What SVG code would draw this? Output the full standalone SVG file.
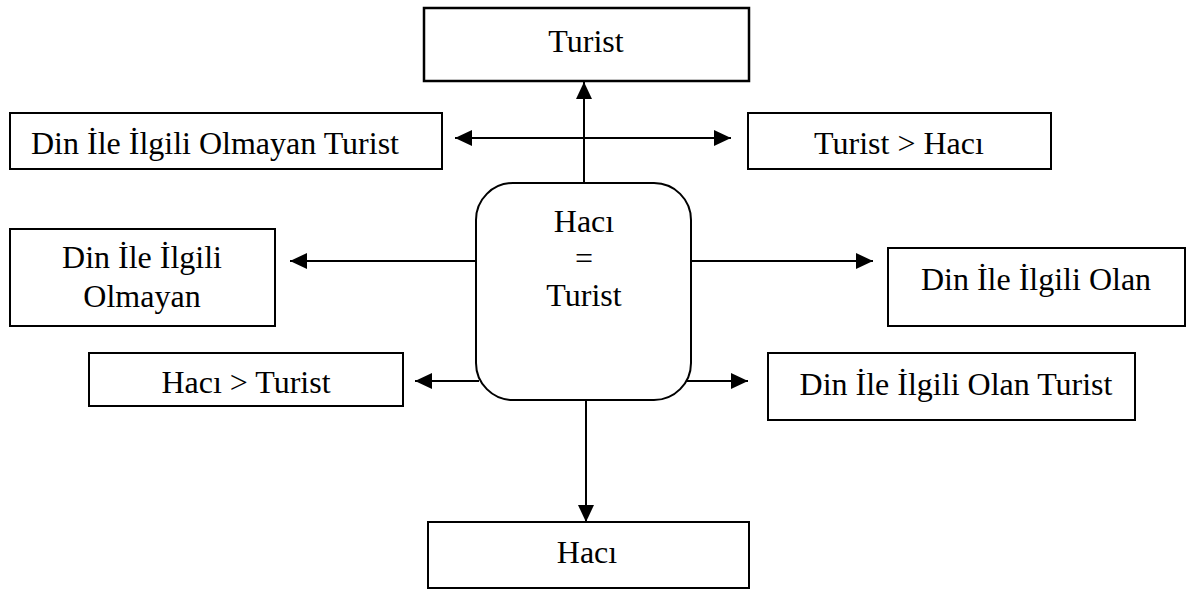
<svg xmlns="http://www.w3.org/2000/svg" width="1193" height="590" viewBox="0 0 1193 590">
<style>
.box{fill:#fff;stroke:#000;stroke-width:2}
.t{font-family:"Liberation Serif","Times New Roman",serif;font-size:32px;fill:#000;text-anchor:middle}
.c{fill:none;stroke:#000;stroke-width:2}
</style>
<defs>
<marker id="ahb" markerWidth="17" markerHeight="16" refX="17" refY="8" orient="auto-start-reverse" markerUnits="userSpaceOnUse" viewBox="0 0 17 16">
<path d="M0,0 L17,8 L0,16 Z" fill="#000"/>
</marker>
</defs>
<rect width="1193" height="590" fill="#fff"/>
<g id="connectors">
<line class="c" x1="584" y1="183" x2="584" y2="82" marker-end="url(#ahb)"/>
<line class="c" x1="455" y1="138" x2="731" y2="138" marker-start="url(#ahb)" marker-end="url(#ahb)"/>
<line class="c" x1="477" y1="261" x2="290" y2="261" marker-end="url(#ahb)"/>
<line class="c" x1="691" y1="261" x2="873" y2="261" marker-end="url(#ahb)"/>
<line class="c" x1="479" y1="381" x2="415" y2="381" marker-end="url(#ahb)"/>
<line class="c" x1="687" y1="381" x2="748" y2="381" marker-end="url(#ahb)"/>
<line class="c" x1="586" y1="400" x2="586" y2="522" marker-end="url(#ahb)"/>
</g>
<g id="turist">
<rect class="box" x="424" y="8" width="325" height="73" style="stroke-width:2.5"/>
<text class="t" x="586" y="52">Turist</text>
</g>
<g id="din-ile-ilgili-olmayan-turist">
<rect class="box" x="10" y="113" width="432" height="56"/>
<text class="t" x="215" y="154">Din İle İlgili Olmayan Turist</text>
</g>
<g id="turist-hacı">
<rect class="box" x="748" y="113" width="303" height="56"/>
<text class="t" x="899" y="154">Turist &gt; Hacı</text>
</g>
<g id="center">
<rect class="box" x="476" y="183" width="215" height="217" rx="37" ry="37"/>
<text class="t" x="584" y="232">Hacı</text>
<text class="t" x="584" y="269">=</text>
<text class="t" x="584" y="306">Turist</text>
</g>
<g id="din-ile-ilgili-olmayan">
<rect class="box" x="10" y="229" width="265" height="97"/>
<text class="t" x="142" y="268">Din İle İlgili</text>
<text class="t" x="142" y="307">Olmayan</text>
</g>
<g id="din-ile-ilgili-olan">
<rect class="box" x="888" y="248" width="297" height="78"/>
<text class="t" x="1036" y="290">Din İle İlgili Olan</text>
</g>
<g id="hacı-turist">
<rect class="box" x="89" y="353" width="314" height="53"/>
<text class="t" x="246" y="393">Hacı &gt; Turist</text>
</g>
<g id="din-ile-ilgili-olan-turist">
<rect class="box" x="768" y="353" width="367" height="67"/>
<text class="t" x="956" y="395">Din İle İlgili Olan Turist</text>
</g>
<g id="hacı">
<rect class="box" x="428" y="522" width="321" height="66"/>
<text class="t" x="587" y="563">Hacı</text>
</g>
</svg>
